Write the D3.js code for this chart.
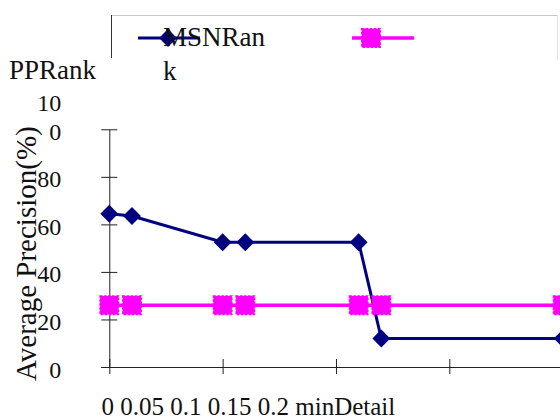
<!DOCTYPE html>
<html>
<head>
<meta charset="utf-8">
<script src="https://cdn.jsdelivr.net/npm/d3@7"></script>
</head>
<body style="margin:0;background:#fff">
<svg id="chart" width="560" height="420"></svg>
<script>
// ---- data ----
const minDetail = [0, 0.01, 0.05, 0.06, 0.11, 0.12, 0.2];
const msnRank   = [64.5, 63.5, 52.5, 52.5, 52.5, 12, 12];
const ppRank    = [26, 26, 26, 26, 26, 26, 26];
const seriesNames = ["MSNRank", "PPRank"];
const yTicks = [0, 20, 40, 60, 80, 100];
const yTickLabels = ["0", "20", "40", "60", "80", "100"];
const xTicks = [0, 0.05, 0.1, 0.15, 0.2, 0.25];
const xTickLabels = ["0", "0.05", "0.1", "0.15", "0.2"];
const xTitle = "minDetail";
const yTitle = "Average Precision(%)";

const FONT = '"Liberation Serif"';
const svg = d3.select("#chart");
const navy = "#000080", pink = "#ff00ff";
function txt(sel, size) {
  return sel.style("font-family", FONT).style("font-size", size + "px").attr("fill", "#111");
}

const x = d3.scaleLinear().domain([0, 0.25]).range([109.3, 676]);
const y = d3.scaleLinear().domain([0, 100]).range([367, 129.3]);

// y axis
const yAxis = svg.append("g").attr("transform", `translate(${x(0)},0)`)
  .call(d3.axisLeft(y).tickValues(yTicks).tickSizeOuter(0).tickSizeInner(8).tickFormat(""));
yAxis.select(".domain").attr("stroke", "#222");
yAxis.selectAll(".tick line").attr("x1", 8).attr("x2", -8).attr("stroke", "#222");
yAxis.selectAll(".tick").each(function(d, i) {
  const lab = yTickLabels[i];
  const g = d3.select(this);
  const parts = lab.length > 2 ? [lab.slice(0, 2), lab.slice(2)] : [lab];
  parts.forEach((p, k) => {
    g.append("text")
      .attr("x", -48)
      .attr("y", 10 - (parts.length - 1 - k) * 29)
      .attr("text-anchor", "end")
      .call(txt, 24)
      .text(p);
  });
});

// x axis
const xAxis = svg.append("g").attr("transform", `translate(0,${y(0)})`)
  .call(d3.axisBottom(x).tickValues(xTicks).tickSizeOuter(0).tickSizeInner(8).tickFormat(""));
xAxis.select(".domain").attr("stroke", "#222").attr("d", `M${x(0) - 8},0.5H${x(0.25)}`);
xAxis.selectAll(".tick line").attr("y1", -8).attr("y2", 7).attr("stroke", "#222");

// x labels (squeezed into one line as in the reference)
svg.append("text")
  .attr("x", 101.5).attr("y", 415)
  .call(txt, 25)
  .text(xTickLabels.join(" ") + " " + xTitle);

// y title
svg.append("text")
  .attr("transform", "translate(36,381) rotate(-90)")
  .call(txt, 29)
  .text(yTitle);

// lines
const line = d3.line().x((d, i) => x(minDetail[i])).y(d => y(d));
svg.append("path").datum(ppRank).attr("d", line)
  .attr("fill", "none").attr("stroke", pink).attr("stroke-width", 3.5);
svg.append("path").datum(msnRank).attr("d", line)
  .attr("fill", "none").attr("stroke", navy).attr("stroke-width", 3);

const sq = d3.symbol().type(d3.symbolSquare).size(340);
const dia = d3.symbol().type(d3.symbolSquare).size(160);

function pinkMarker(sel) {
  sel.attr("d", sq)
    .attr("fill", pink).attr("stroke", pink).attr("stroke-width", 1.5)
    .attr("stroke-dasharray", "2.5 1.5");
}

svg.append("g").selectAll("path").data(ppRank).join("path")
  .call(pinkMarker)
  .attr("transform", (d, i) => `translate(${x(minDetail[i])},${y(d)})`);

svg.append("g").selectAll("path").data(msnRank).join("path")
  .attr("d", dia)
  .attr("transform", (d, i) => `translate(${x(minDetail[i])},${y(d)}) rotate(45)`)
  .attr("fill", navy);

// legend box (partially visible)
const leg = svg.append("g");
leg.append("line").attr("x1", 111.5).attr("x2", 557).attr("y1", 15.5).attr("y2", 15.5).attr("stroke", "#c8c8c8");
leg.append("line").attr("x1", 111.5).attr("x2", 111.5).attr("y1", 15).attr("y2", 58).attr("stroke", "#333");
leg.append("line").attr("x1", 557.5).attr("x2", 557.5).attr("y1", 15).attr("y2", 60).attr("stroke", "#e4e4e4");

// MSNRank entry
leg.append("line").attr("x1", 138).attr("x2", 200).attr("y1", 38).attr("y2", 38).attr("stroke", navy).attr("stroke-width", 3);
leg.append("path").attr("d", dia).attr("transform", "translate(168,38) rotate(45)").attr("fill", navy);
leg.append("text").attr("x", 163).attr("y", 46).call(txt, 27).text(seriesNames[0].slice(0, 6));
leg.append("text").attr("x", 163).attr("y", 80).call(txt, 27).text(seriesNames[0].slice(6));

// PPRank entry
leg.append("line").attr("x1", 352).attr("x2", 414).attr("y1", 38).attr("y2", 38).attr("stroke", pink).attr("stroke-width", 3.5);
leg.append("path").call(pinkMarker).attr("transform", "translate(371,38)");
leg.append("text").attr("x", 9).attr("y", 79).call(txt, 27).text(seriesNames[1]);
</script>
</body>
</html>
